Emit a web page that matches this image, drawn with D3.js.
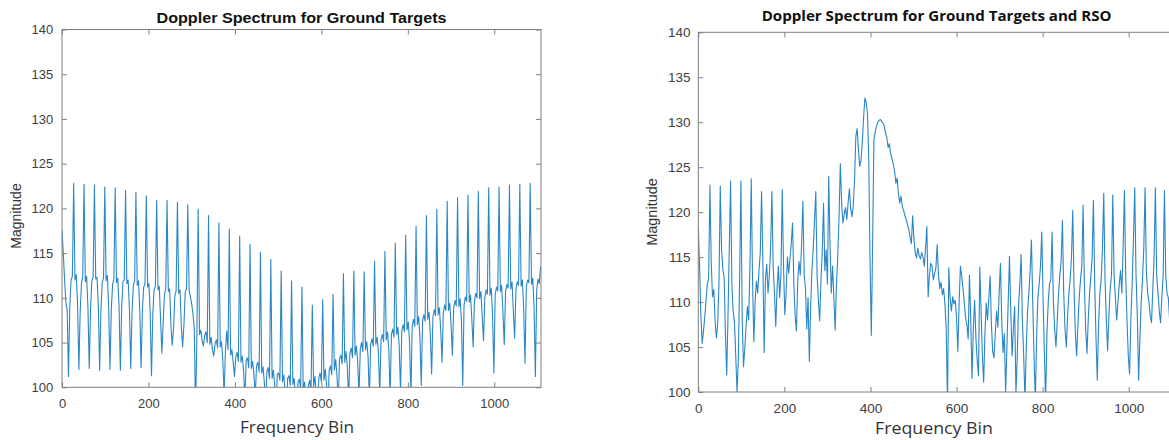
<!DOCTYPE html>
<html><head><meta charset="utf-8">
<script src="https://cdn.jsdelivr.net/npm/d3@7"></script>
<style>html,body{margin:0;padding:0;background:#fff}svg{display:block}</style>
</head><body>
<svg id="chart" width="1169" height="440"></svg>
<script>
// ---------- data ----------
const xTicks = [0, 200, 400, 600, 800, 1000];
const yTicks = [100, 105, 110, 115, 120, 125, 130, 135, 140];
const xDomain = [0, 1108];
const yDomain = [100, 140];
const binStep = 3; // one sample every 3 frequency bins

const groundTargets = [
117.6,115.0,112.0,109.5,108.6,101.2,109.0,112.0,112.4,
122.8,112.0,112.6,109.2,102.0,108.4,111.6,112.5,
122.7,111.8,112.4,108.9,102.1,108.7,111.9,112.3,
122.6,112.1,112.3,109.1,101.9,108.5,111.7,112.2,
122.4,111.9,112.5,108.8,102.0,108.6,111.5,112.1,
122.3,111.7,112.2,109.0,101.9,108.9,111.8,112.0,
122.0,111.6,112.0,108.7,102.1,108.4,111.4,111.9,
121.8,111.4,111.9,108.5,102.2,108.7,111.2,111.6,
121.4,111.2,111.6,108.3,101.3,108.1,110.9,111.4,
120.9,110.9,111.3,107.6,103.8,107.2,110.4,111.0,
120.9,110.7,111.0,106.9,104.7,106.5,110.2,110.8,
120.7,110.5,110.9,106.8,104.5,106.9,110.6,111.0,
120.4,110.8,110.1,109.3,108.2,106.5,97.0,105.8,
119.9,105.9,106.4,105.2,104.6,105.8,106.2,105.0,
119.2,104.8,105.6,104.2,103.5,104.9,105.3,104.4,
118.4,104.5,105.1,103.0,99.2,104.0,106.3,104.2,
117.7,103.6,104.2,102.8,101.2,103.4,103.9,102.9,
116.9,102.8,103.5,101.9,98.5,103.0,103.3,102.2,
116.0,102.1,102.9,101.4,99.0,102.4,102.8,101.7,
115.1,101.6,102.3,100.6,98.0,101.8,102.2,101.0,
114.3,101.0,101.9,100.2,97.5,101.5,101.6,100.8,
113.0,100.6,101.4,99.6,97.0,101.0,101.3,100.2,
111.9,100.3,101.0,99.0,96.5,100.6,100.9,99.8,
111.2,99.6,100.6,98.5,96.0,100.2,100.8,99.5,
109.2,100.1,101.2,99.4,96.8,101.0,101.6,100.6,
109.8,100.8,102.0,100.3,97.5,101.9,102.4,101.4,
110.4,101.9,103.1,101.4,98.0,103.2,103.6,102.6,
112.7,102.8,104.0,102.3,98.5,103.8,104.4,103.3,
113.0,103.6,104.6,102.8,99.0,104.3,105.0,104.0,
112.9,104.2,105.1,103.4,98.5,104.8,105.4,104.6,
114.1,104.8,105.6,103.8,99.2,105.3,105.9,105.1,
115.2,105.3,106.2,104.1,99.0,105.9,106.5,105.6,
116.1,105.9,106.7,104.6,99.5,106.3,107.0,106.2,
117.0,106.4,107.3,105.0,99.0,106.8,107.6,106.8,
118.0,107.0,107.9,105.6,100.2,107.4,108.1,107.4,
119.2,107.6,108.4,106.0,101.5,107.8,108.7,108.0,
119.9,108.1,108.9,106.4,102.8,108.3,109.2,108.6,
120.8,108.6,109.4,106.9,103.6,108.9,109.7,109.1,
121.2,109.0,109.9,107.3,100.2,109.2,110.1,109.6,
121.5,109.5,110.3,107.6,104.5,109.6,110.5,110.0,
121.9,109.9,110.7,107.9,105.2,110.0,110.9,110.4,
122.3,110.3,111.1,108.0,101.6,110.3,111.2,110.8,
122.4,110.7,111.4,108.3,104.8,110.7,111.5,111.1,
122.6,111.0,111.8,108.5,105.5,110.9,111.8,111.4,
122.7,111.3,112.0,108.6,102.7,111.2,112.0,111.7,
122.8,111.5,112.2,108.8,101.2,110.8,112.1,111.6,
113.5
];

const groundTargetsAndRSO = [
118.4,114.0,108.5,105.4,106.8,108.3,110.2,112.0,112.6,
123.0,114.5,110.6,111.4,108.0,106.0,107.5,112.0,
122.9,116.0,113.6,112.8,106.5,101.9,108.5,116.0,
123.5,112.0,109.0,107.8,104.0,100.0,103.5,112.5,
123.5,108.0,102.8,104.8,107.3,109.5,108.0,114.0,
123.7,112.5,105.6,110.0,112.3,111.0,113.5,115.5,
122.3,114.5,104.4,112.5,114.2,111.0,113.0,116.0,
122.3,113.8,111.0,107.3,111.5,114.0,110.5,113.0,
122.5,114.0,108.6,111.0,115.0,113.2,114.8,116.5,
118.8,112.0,108.5,106.8,112.3,114.5,113.0,116.5,
121.2,113.0,111.6,107.0,110.5,103.4,109.5,113.5,
116.0,119.0,122.3,113.0,110.2,107.9,112.5,115.6,
121.0,113.5,115.8,112.0,124.0,116.5,111.0,114.0,
110.5,106.9,112.0,115.0,119.5,125.4,121.0,118.8,
119.8,120.5,119.2,121.0,122.6,120.4,119.5,120.7,
123.5,128.4,129.3,127.0,125.1,125.8,127.7,130.5,
132.7,132.2,131.0,126.0,114.5,106.3,116.5,128.1,
128.9,129.6,130.0,130.2,130.3,130.1,129.9,129.6,
128.8,128.3,127.2,127.6,126.5,125.9,125.3,124.6,
123.2,123.8,122.0,121.0,121.8,120.6,120.2,119.6,
119.2,118.6,118.1,117.2,116.5,119.6,117.0,115.5,
114.9,116.0,115.2,114.8,115.5,115.0,114.0,116.0,
118.4,110.6,113.0,114.3,114.0,112.5,113.2,113.8,
116.4,113.0,111.5,112.2,110.8,111.5,109.8,107.0,
98.5,113.8,110.5,109.0,110.6,109.8,110.2,108.2,
104.5,110.0,114.0,112.8,111.5,110.0,108.2,107.5,
105.9,113.0,108.0,101.5,107.0,110.2,106.0,103.5,
101.8,113.9,109.0,104.0,101.1,106.5,109.9,108.0,
110.5,112.9,107.5,104.5,103.8,106.5,109.0,107.2,
111.0,114.3,108.0,104.4,106.5,100.0,105.0,110.0,
115.1,109.0,104.0,107.0,109.5,99.8,104.0,109.5,
112.0,115.3,108.0,104.0,99.0,105.0,109.0,111.0,
113.5,116.9,110.0,104.0,99.0,106.0,110.5,112.0,
114.0,117.8,110.5,104.5,99.0,106.5,110.0,112.0,
112.5,117.8,110.0,107.0,105.0,108.0,111.0,113.0,
114.5,119.1,111.0,107.0,105.0,108.5,111.0,112.5,
115.0,120.2,111.5,106.5,104.0,107.5,110.5,112.5,
114.0,120.8,112.0,107.0,104.3,108.0,111.0,112.8,
115.0,121.3,112.0,106.0,101.3,107.5,111.0,112.5,
116.0,122.1,112.5,108.0,104.6,108.5,111.5,113.0,
121.9,113.0,110.5,108.0,110.0,112.0,113.5,111.0,
116.0,122.4,113.0,108.0,104.0,102.0,108.0,112.0,
117.0,122.7,113.0,108.5,101.3,106.0,110.0,112.5,
116.0,122.7,113.5,111.0,110.0,108.5,107.7,111.5,
115.0,122.7,113.0,111.0,109.0,107.7,110.5,113.0,
122.4,113.0,111.0,110.5,108.0,110.0,112.0,111.5,112.0
];

const titles = ["Doppler Spectrum for Ground Targets", "Doppler Spectrum for Ground Targets and RSO"];
const xLabel = "Frequency Bin";
const yLabel = "Magnitude";

// ---------- layout ----------
const panels = [
  { values: groundTargets, title: titles[0], left: 62, right: 541, top: 29.5, bottom: 387.3,
    titleFont: "'Liberation Sans', Arial, sans-serif", titleY: 23, titleSize: 14, titleLen: 290,
    xPad: 11.5, yPad: 8.7, tickSize: 13,
    xlabX: 297, xlabY: 433, xlabLen: 114, ylabX: 21, ylabY: 216, ylabSize: 14 },
  { values: groundTargetsAndRSO, title: titles[1], left: 698.3, right: 1175.2, top: 32.3, bottom: 392,
    titleFont: "'Open Sans', 'Noto Sans', sans-serif", titleY: 21, titleSize: 14, titleLen: 350,
    xPad: 11, yPad: 7.8, tickSize: 13.5,
    xlabX: 934, xlabY: 434, xlabLen: 118, ylabX: 657, ylabY: 212, ylabSize: 14.5 }
];

const svg = d3.select("#chart");
const axisColor = "#808080";
const textColor = "#404040";
const lineColor = "#2a86c7";

panels.forEach((p, idx) => {
  const x = d3.scaleLinear().domain(xDomain).range([p.left, p.right]);
  const y = d3.scaleLinear().domain(yDomain).range([p.bottom, p.top]);
  const g = svg.append("g");

  const clipId = "clip" + idx;
  svg.append("clipPath").attr("id", clipId).append("rect")
    .attr("x", p.left).attr("y", p.top)
    .attr("width", p.right - p.left).attr("height", p.bottom - p.top);

  const line = d3.line().x((d, i) => x(i * binStep)).y(d => y(d));
  g.append("path").datum(p.values)
    .attr("clip-path", `url(#${clipId})`)
    .attr("fill", "none").attr("stroke", lineColor)
    .attr("stroke-width", 1.1).attr("stroke-linejoin", "round")
    .attr("d", line);

  // bottom axis
  g.append("g").attr("transform", `translate(0,${p.bottom})`)
    .call(d3.axisBottom(x).tickValues(xTicks).tickFormat(d3.format("d"))
      .tickSize(-5).tickSizeOuter(0).tickPadding(p.xPad));
  // left axis
  g.append("g").attr("transform", `translate(${p.left},0)`)
    .call(d3.axisLeft(y).tickValues(yTicks).tickFormat(d3.format("d"))
      .tickSize(-5).tickSizeOuter(0).tickPadding(p.yPad));
  // top axis (ticks only)
  g.append("g").attr("transform", `translate(0,${p.top})`)
    .call(d3.axisTop(x).tickValues(xTicks).tickFormat("").tickSize(-5).tickSizeOuter(0));
  // right axis (ticks only)
  g.append("g").attr("transform", `translate(${p.right},0)`)
    .call(d3.axisRight(y).tickValues(yTicks).tickFormat("").tickSize(-5).tickSizeOuter(0));

  g.selectAll(".domain").remove();
  g.selectAll(".tick line").attr("stroke", axisColor);
  g.selectAll(".tick text").attr("fill", textColor)
    .style("font-family", "'Liberation Sans', Arial, sans-serif")
    .style("font-size", p.tickSize + "px");

  g.append("rect").attr("x", p.left).attr("y", p.top)
    .attr("width", p.right - p.left).attr("height", p.bottom - p.top)
    .attr("fill", "none").attr("stroke", axisColor).attr("stroke-width", 1);

  // title
  g.append("text").text(p.title)
    .attr("x", (p.left + Math.min(p.right, 1175)) / 2).attr("y", p.titleY)
    .attr("text-anchor", "middle")
    .attr("textLength", p.titleLen).attr("lengthAdjust", "spacingAndGlyphs")
    .style("font-family", p.titleFont).style("font-weight", "bold")
    .style("font-size", p.titleSize + "px").attr("fill", "#111");

  // x label
  g.append("text").text(xLabel)
    .attr("x", p.xlabX).attr("y", p.xlabY).attr("text-anchor", "middle")
    .attr("textLength", p.xlabLen).attr("lengthAdjust", "spacingAndGlyphs")
    .style("font-family", "'Open Sans', 'Noto Sans', sans-serif")
    .style("font-size", "17px").attr("fill", "#333");

  // y label
  g.append("text").text(yLabel)
    .attr("transform", `translate(${p.ylabX},${p.ylabY}) rotate(-90)`)
    .attr("text-anchor", "middle")
    .style("font-family", "'Liberation Sans', Arial, sans-serif")
    .style("font-size", p.ylabSize + "px").attr("fill", "#333");
});
</script>
</body></html>
